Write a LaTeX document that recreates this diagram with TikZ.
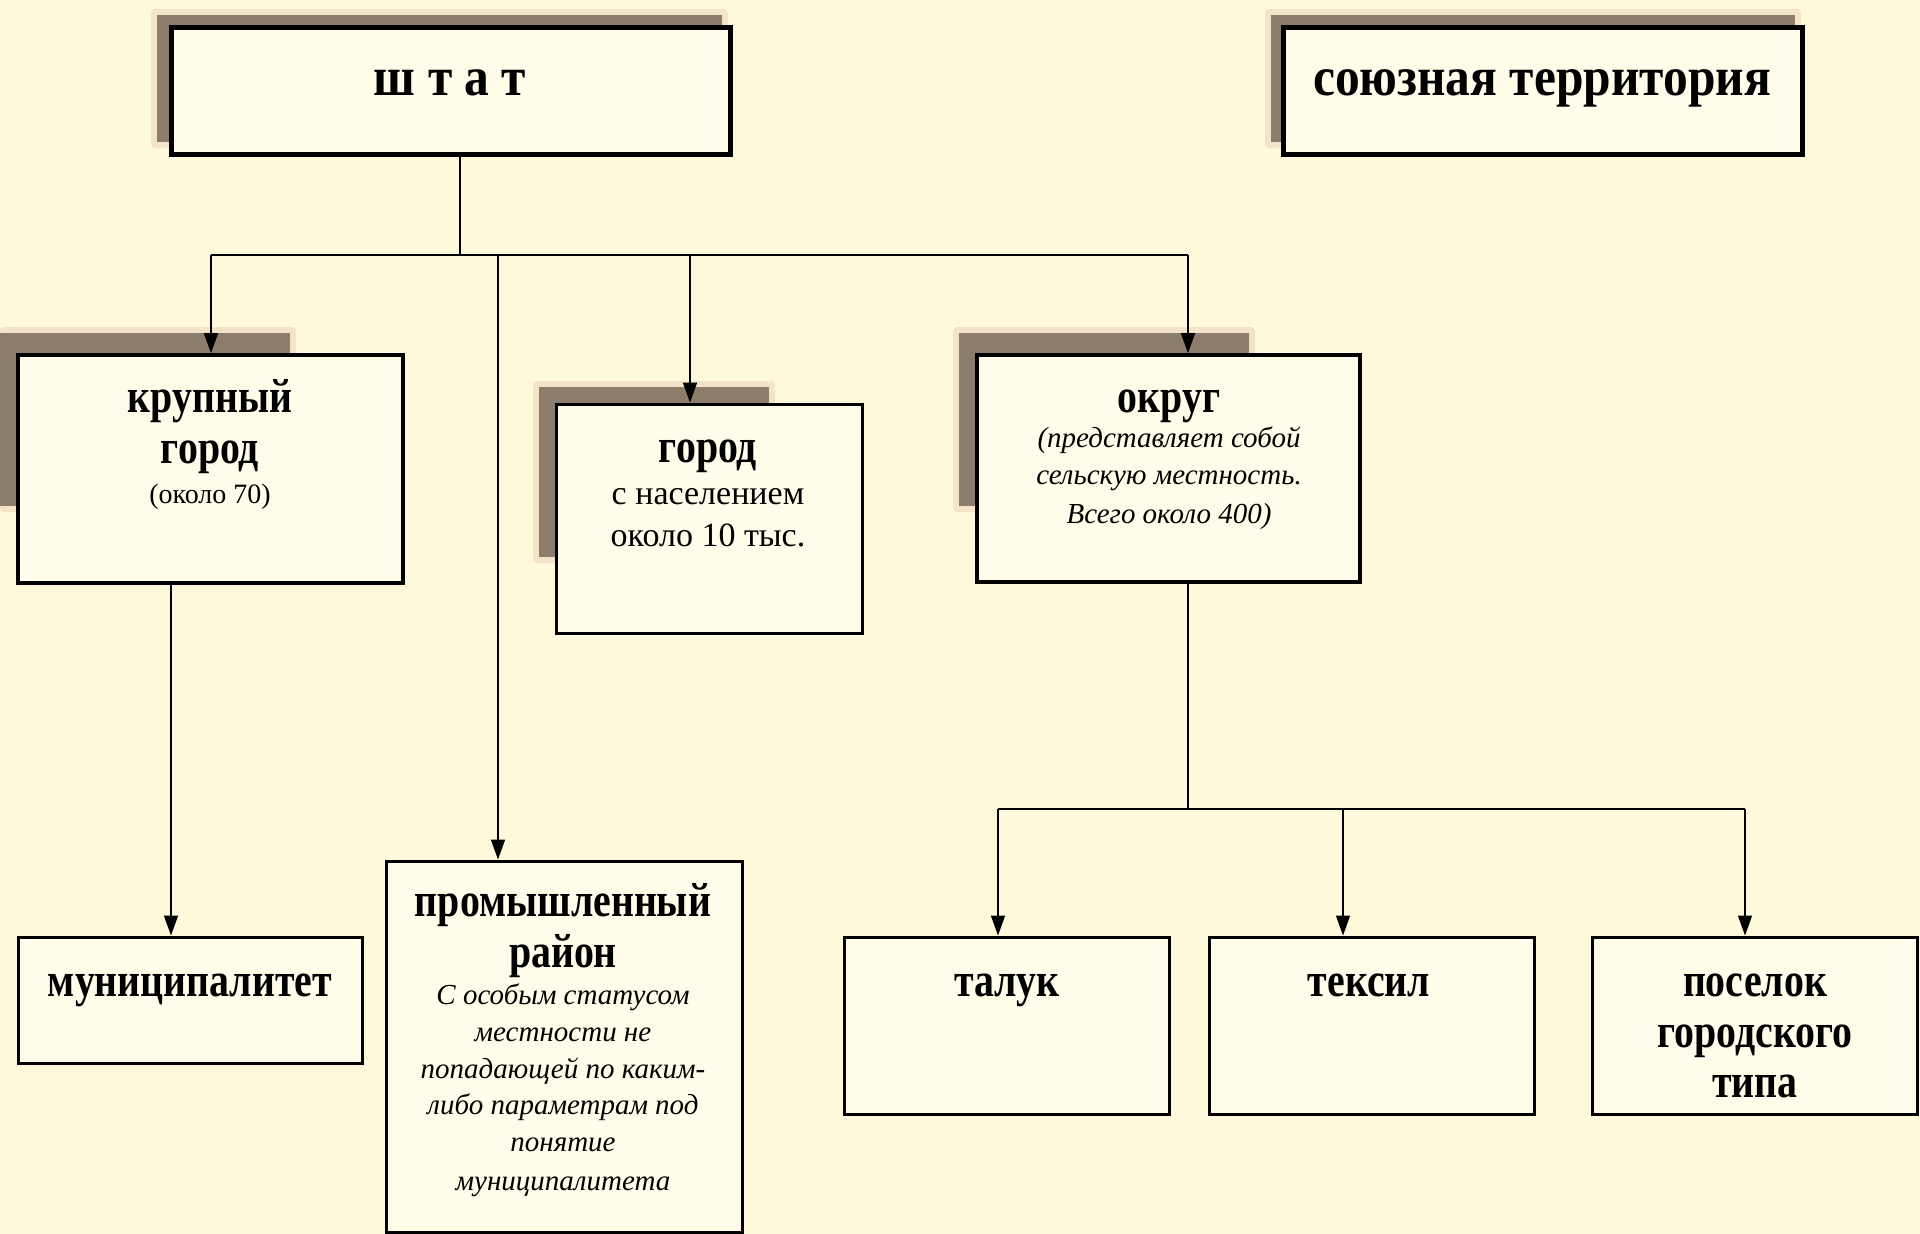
\documentclass[tikz,border=0pt]{standalone}
\usepackage{fontspec}
\setmainfont{Liberation Serif}
\newfontfamily\bcond[FakeStretch=0.83]{Liberation Serif}
\newfontfamily\bigcond[FakeStretch=0.9]{Liberation Serif}
\usetikzlibrary{arrows.meta}
\definecolor{bg}{HTML}{FEF9DA}
\definecolor{boxfill}{HTML}{FFFDE9}
\definecolor{shad}{HTML}{8C7C6B}
\definecolor{halo}{HTML}{F5E3C9}
\begin{document}
\begin{tikzpicture}[x=1pt,y=-1pt,
  box/.style={draw=black, fill=boxfill, line width=3pt, inner sep=0pt},
  thickbox/.style={box, line width=5pt},
  midbox/.style={box, line width=3.6pt},
  shadowrect/.style={fill=shad},
  halorect/.style={fill=halo, rounded corners=4pt},
  conn/.style={line width=1.6pt, draw=black},
  arr/.style={conn, -{Triangle[width=14pt,length=20pt]}},
  tline/.style={anchor=base, inner sep=0pt},
  big/.style={tline, font=\bigcond\bfseries\fontsize{55}{60}\selectfont},
  bold/.style={tline, font=\bcond\bfseries\fontsize{48}{56}\selectfont},
  reg/.style={tline, font=\fontsize{34}{40}\selectfont},
  small/.style={tline, font=\fontsize{28}{34}\selectfont},
  ital/.style={tline, font=\itshape\fontsize{29}{36}\selectfont}
]
% background
\fill[bg] (0,0) rectangle (1920,1234);
\useasboundingbox (0,0) rectangle (1920,1234);

% shadows
\fill[halorect] (151,9) rectangle (728,148);
\fill[shadowrect] (157,15) rectangle (722,142);
\fill[halorect] (1265,9) rectangle (1801,148);
\fill[shadowrect] (1271,15) rectangle (1795,142);
\fill[halorect] (0,327) rectangle (296,512);
\fill[shadowrect] (0,333) rectangle (290,506);
\fill[halorect] (533,381) rectangle (775,563);
\fill[shadowrect] (539,387) rectangle (769,557);
\fill[halorect] (953,327) rectangle (1255,512);
\fill[shadowrect] (959,333) rectangle (1249,506);

% boxes
\node[thickbox, minimum width=559pt, minimum height=127pt] (shtat) at (450.5,90.5) {};
\node[thickbox, minimum width=519pt, minimum height=127pt] (souz) at (1542.5,90.5) {};
\node[midbox, minimum width=385pt, minimum height=228pt] (krup) at (210.5,469) {};
\node[box, minimum width=306pt, minimum height=229pt] (gorod) at (709,518.5) {};
\node[midbox, minimum width=383pt, minimum height=227pt] (okrug) at (1168.5,468.5) {};
\node[box, minimum width=356pt, minimum height=371pt] (prom) at (564,1046.5) {};
\node[box, minimum width=344pt, minimum height=126pt] (munic) at (190,1000) {};
\node[box, minimum width=325pt, minimum height=177pt] (taluk) at (1006.5,1025.5) {};
\node[box, minimum width=325pt, minimum height=177pt] (teksil) at (1371.5,1025.5) {};
\node[box, minimum width=325pt, minimum height=177pt] (posel) at (1755,1025.5) {};

% texts
\node[big] (t1) at (450,95) {ш т а т};
\node[big] (t2) at (1542,95) {союзная территория};
\node[bold] (t3) at (210,412) {крупный};
\node[bold] (t4) at (210,463) {город};
\node[small] (t5) at (210,503) {(около 70)};
\node[bold] (t6) at (708,462) {город};
\node[reg] (t7) at (708,504) {с населением};
\node[reg] (t8) at (708,546) {около 10 тыс.};
\node[bold] (t9) at (1169,412) {округ};
\node[ital] (t10) at (1169,447) {(представляет собой};
\node[ital] (t11) at (1169,484) {сельскую местность.};
\node[ital] (t12) at (1169,523) {Всего около 400)};
\node[bold] (t13) at (563,916) {промышленный};
\node[bold] (t14) at (563,967) {район};
\node[ital] (t15) at (563,1004) {С особым статусом};
\node[ital] (t16) at (563,1041) {местности не};
\node[ital] (t17) at (563,1078) {попадающей по каким-};
\node[ital] (t18) at (563,1114) {либо параметрам под};
\node[ital] (t19) at (563,1151) {понятие};
\node[ital] (t20) at (563,1190) {муниципалитета};
\node[bold] (t21) at (190,996) {муниципалитет};
\node[bold] (t22) at (1007,996) {талук};
\node[bold] (t23) at (1369,996) {тексил};
\node[bold] (t24) at (1755,996) {поселок};
\node[bold] (t25) at (1755,1047) {городского};
\node[bold] (t26) at (1755,1097) {типа};

% connectors
\coordinate (j1) at (460,255);
\coordinate (bL) at (211,255);
\coordinate (bP) at (498,255);
\coordinate (bG) at (690,255);
\coordinate (bR) at (1188,255);
\draw[conn] (shtat.south -| j1) -- (j1);
\draw[conn] (bL) -- (bR);
\draw[arr] (bL) -- (krup.north -| bL);
\draw[arr] (bP) -- (prom.north -| bP);
\draw[arr] (bG) -- (gorod.north -| bG);
\draw[arr] (bR) -- (okrug.north -| bR);

\coordinate (k1) at (171,600);
\draw[arr] (krup.south -| k1) -- (munic.north -| k1);

\coordinate (j2) at (1188,809);
\coordinate (cL) at (998,809);
\coordinate (cM) at (1343,809);
\coordinate (cR) at (1745,809);
\draw[conn] (okrug.south -| j2) -- (j2);
\draw[conn] (cL) -- (cR);
\draw[arr] (cL) -- (taluk.north -| cL);
\draw[arr] (cM) -- (teksil.north -| cM);
\draw[arr] (cR) -- (posel.north -| cR);
\end{tikzpicture}
\end{document}
